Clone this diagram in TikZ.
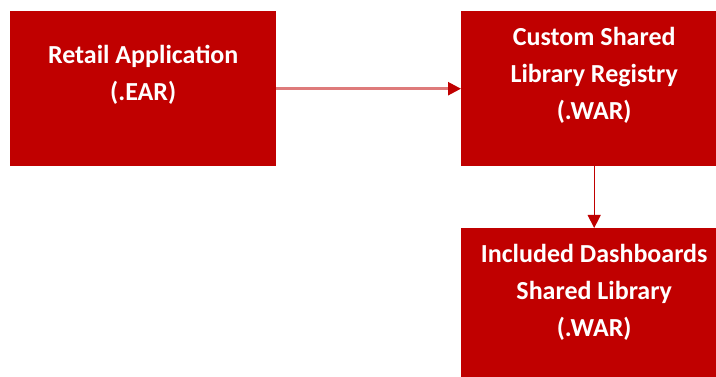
\documentclass[tikz,border=0pt]{standalone}
\usepackage{fontspec}
\setmainfont{Carlito}
\usepackage{tikz}
\usetikzlibrary{positioning,arrows.meta}
\definecolor{boxred}{HTML}{C00000}
\definecolor{linkred}{HTML}{DE7A7A}
\tikzset{%
  module box/.style={
    rectangle,
    fill=boxred,
    draw=none,
    inner sep=0pt,
    minimum width=266pt,
    minimum height=155pt,
    anchor=north west
  },
  module text/.style={
    text=white,
    align=center,
    font=\bfseries\fontsize{26}{37}\selectfont,
    yshift=13.5pt
  },
}

\begin{document}
\begin{tikzpicture}[> = {Triangle[length=13pt,width=13pt]}]
\useasboundingbox (0pt,0pt) rectangle (716pt,-377pt);
\clip (0pt,0pt) rectangle (716pt,-377pt);
    \node[module box] (retail) at (10pt,-11pt) {};
    \node[module box] (registry) at (461pt,-11pt) {};
    \node[module box] (dashboards) at (461pt,-228pt) {};

    \node[module text] (retailtext) at (retail.center) {Retail Application\\(.EAR)};
    \node[module text] (registrytext) at (registry.center) {Custom Shared\\Library Registry\\(.WAR)};
    \node[module text] (dashboardstext) at (dashboards.center) {Included Dashboards\\Shared Library\\(.WAR)};

    \draw[linkred, line width=2.5pt, -{Triangle[length=13pt,width=13pt,fill=boxred,color=boxred]}]  (retail.east) -- (registry.west);
    \draw[boxred, line width=1.2pt, ->]  (registry.south) -- (dashboards.north);
\end{tikzpicture}
\end{document}
